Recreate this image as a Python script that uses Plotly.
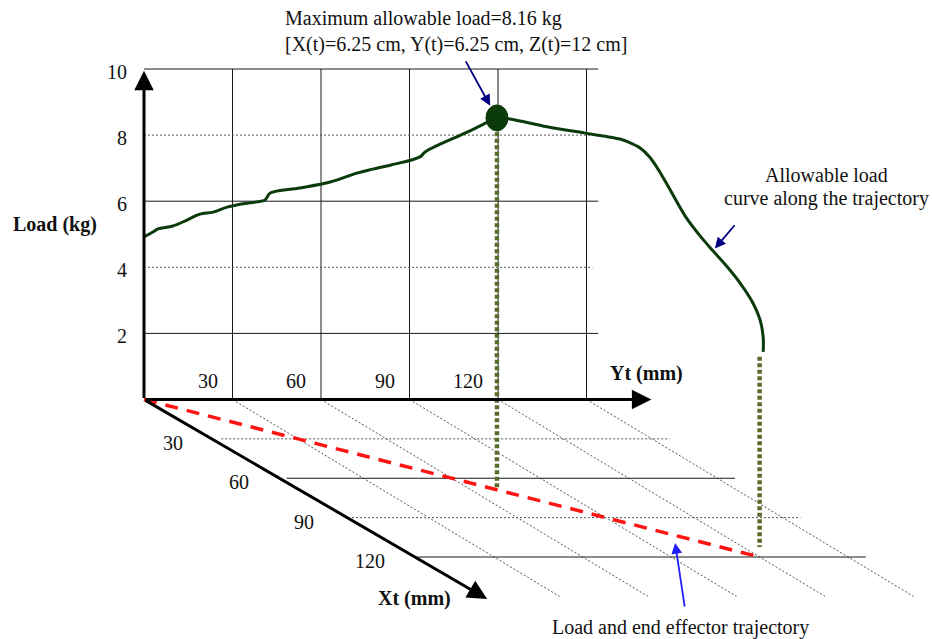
import plotly.graph_objects as go

# ---------------- data ----------------
# allowable load along the trajectory; s = Xt = Yt (mm) on the straight path
CURVE_S = [0, 1.75, 2.73, 5.65, 8.38, 10.9, 13.5, 16.2, 18.7, 22.0, 23.6, 24.6, 30.4,
           36.3, 41.5, 44.6, 48.0, 53.8, 54.8, 63.0, 67.1, 68.8, 71.3, 78.6, 86.0,
           89.5, 92.8, 94.7, 96.7, 98.6, 100.6, 102.5, 105.5, 108.4, 110.9, 113.6,
           116.2, 118.7, 120.1, 120.7, 120.7]
CURVE_LOAD = [4.92, 5.07, 5.16, 5.25, 5.43, 5.61, 5.67, 5.82, 5.91, 5.98, 6.04, 6.25, 6.40,
              6.58, 6.85, 6.97, 7.09, 7.34, 7.49, 8.09, 8.40, 8.52, 8.49, 8.25, 8.06,
              7.97, 7.88, 7.77, 7.61, 7.33, 6.87, 6.36, 5.55, 4.95, 4.50, 4.03,
              3.52, 2.92, 2.41, 1.89, 1.44]
TRAJ_XT = [0, 120]
TRAJ_YT = [0, 120]
YT_TICKS = [30, 60, 90, 120, 150]
XT_TICKS = [30, 60, 90, 120]
LOAD_TICKS = [2, 4, 6, 8, 10]
LOAD_DOTTED = [4, 8]
XT_DOTTED = [30, 90]

# ---------------- oblique projection ----------------
PX_YT = 2.95      # px per mm along Yt
PX_XT_X = 2.18    # px per mm of Xt (horizontal component)
PX_XT_Y = 1.3125  # px per mm of Xt (vertical component)
PX_LOAD = 33.05   # px per kg
CX = PX_XT_X / PX_YT
CY = PX_XT_Y / PX_LOAD
OX, OY = 144.0, 399.5  # pixel position of the origin
W, H = 932, 639


def proj(xt, yt, load=0.0):
    """floor point (xt, yt) raised by load"""
    return yt + xt * CX, load - xt * CY


def curve_pt(s, load):
    """load drawn on the back-plane scale above the projected trajectory point"""
    return proj(s, s)[0], load


def px(x):
    return (x - OX) / PX_YT


def py(y):
    return (OY - y) / PX_LOAD


FONT = "Liberation Serif"
fig = go.Figure()


def segs(pairs, **line):
    xs, ys = [], []
    for a, b in pairs:
        xs += [a[0], b[0], None]
        ys += [a[1], b[1], None]
    fig.add_trace(go.Scatter(x=xs, y=ys, mode="lines", line=line, hoverinfo="skip"))


BACK_W = 154
FLOOR_D = 150
solid = dict(color="#1a1a1a", width=1)
dotted = dict(color="#555555", width=1, dash="2px,2px")

# back plane
segs([(proj(0, yt, 0), proj(0, yt, 10)) for yt in YT_TICKS], **solid)
segs([(proj(0, 0, L), proj(0, BACK_W, L)) for L in LOAD_TICKS if L not in LOAD_DOTTED], **solid)
segs([(proj(0, 0, L), proj(0, BACK_W - 2, L)) for L in LOAD_DOTTED], **dotted)
# floor plane
segs([(proj(0, yt), proj(FLOOR_D, yt)) for yt in YT_TICKS], **dotted)
segs([(proj(xt, 4), proj(xt, 156)) for xt in XT_TICKS if xt not in XT_DOTTED], **solid)
segs([(proj(xt, 4), proj(xt, 156)) for xt in XT_DOTTED], **dotted)

# trajectory (red dashed)
tx, ty = zip(*[proj(a, b) for a, b in zip(TRAJ_XT, TRAJ_YT)])
fig.add_trace(go.Scatter(x=tx, y=ty, mode="lines",
                         line=dict(color="#ff1414", width=3.5, dash="13px,9px"), hoverinfo="skip"))

# vertical projection lines (olive dotted)
ipk = CURVE_LOAD.index(max(CURVE_LOAD))
spk, lpk = CURVE_S[ipk], CURVE_LOAD[ipk]
se, le = TRAJ_XT[-1], CURVE_LOAD[-1]
segs([(curve_pt(spk, lpk + 0.35), proj(spk, spk, 0)),
      (curve_pt(se, le - 0.15), proj(se, se, 0.3))],
     color="#586d2c", width=4.5, dash="4px,2.5px")

# load curve
cx, cy = zip(*[curve_pt(s, L) for s, L in zip(CURVE_S, CURVE_LOAD)])
fig.add_trace(go.Scatter(x=cx, y=cy, mode="lines",
                         line=dict(color="#0b3a0b", width=3, shape="spline", smoothing=1.0),
                         hoverinfo="skip"))

# peak marker
pkx, pky = curve_pt(spk, lpk)
fig.add_shape(type="circle", xref="x", yref="y", xsizemode="pixel", ysizemode="pixel",
              xanchor=pkx, yanchor=pky, x0=-11, x1=11, y0=-13, y1=13,
              fillcolor="#0b3a0b", line=dict(color="#0b3a0b", width=1))

# axes (thick black with arrowheads)
YT_AXIS_END = 172
XT_AXIS_END = 152
LOAD_AXIS_END = 9.95
ann = []
for tip, tail in [(proj(0, 0, LOAD_AXIS_END), proj(0, 0, 0)),
                  (proj(0, YT_AXIS_END, 0), proj(0, 0, 0)),
                  (proj(XT_AXIS_END, 4, 0), proj(0, 0, 0))]:
    ann.append(dict(x=tip[0], y=tip[1], ax=tail[0], ay=tail[1], xref="x", yref="y",
                    axref="x", ayref="y", text="", showarrow=True, arrowhead=2,
                    arrowsize=1.3, arrowwidth=3, arrowcolor="black"))

tf = dict(family=FONT, size=20, color="#111111")
bf = dict(family=FONT, size=20, color="#111111", weight="bold")

# load tick labels
for L in LOAD_TICKS:
    ann.append(dict(x=px(129), y=L, xref="x", yref="y", text=str(L), showarrow=False,
                    xanchor="right", yanchor="middle", yshift=-3, font=tf))
# Yt tick labels
for yt in YT_TICKS[:-1]:
    x, _ = proj(0, yt, 0)
    ann.append(dict(x=x, y=py(381), xref="x", yref="y", text=str(yt), showarrow=False,
                    xanchor="right", yanchor="middle", xshift=-13, font=tf))
# Xt tick labels
for xt in XT_TICKS:
    x, y = proj(xt, 0, 0)
    ann.append(dict(x=x, y=y, xref="x", yref="y", text=str(xt), showarrow=False,
                    xanchor="center", yanchor="middle", xshift=-36, yshift=-4, font=tf))

# axis titles
ann.append(dict(x=px(55), y=py(224), xref="x", yref="y", text="Load (kg)", showarrow=False,
                xanchor="center", yanchor="middle", font=bf))
ann.append(dict(x=px(646), y=py(373), xref="x", yref="y", text="Yt (mm)", showarrow=False,
                xanchor="center", yanchor="middle", font=bf))
ann.append(dict(x=px(414), y=py(598), xref="x", yref="y", text="Xt (mm)", showarrow=False,
                xanchor="center", yanchor="middle", font=bf))

# callouts
ann.append(dict(x=px(283), y=py(18), xref="x", yref="y", text="Maximum allowable load=8.16 kg",
                showarrow=False, xanchor="left", yanchor="middle", font=tf))
ann.append(dict(x=px(283), y=py(44), xref="x", yref="y",
                text="[X(t)=6.25 cm, Y(t)=6.25 cm, Z(t)=12 cm]",
                showarrow=False, xanchor="left", yanchor="middle", font=tf))
ann.append(dict(x=pkx, y=pky, xref="x", yref="y", text="", showarrow=True, ax=-32, ay=-58,
                standoff=14, arrowhead=2, arrowsize=1.2, arrowwidth=1.8, arrowcolor="#000080"))

ann.append(dict(x=px(826), y=py(175), xref="x", yref="y", text="Allowable load",
                showarrow=False, xanchor="center", yanchor="middle", font=tf))
ann.append(dict(x=px(826), y=py(198), xref="x", yref="y", text="curve along the trajectory",
                showarrow=False, xanchor="center", yanchor="middle", font=tf))
ia = CURVE_S.index(110.9)
ax_, ay_ = curve_pt(CURVE_S[ia], CURVE_LOAD[ia])
ann.append(dict(x=ax_, y=ay_, xref="x", yref="y", text="", showarrow=True, ax=23, ay=-27,
                standoff=3, arrowhead=2, arrowsize=1.2, arrowwidth=1.8, arrowcolor="#000080"))

ann.append(dict(x=px(680), y=py(627), xref="x", yref="y", text="Load and end effector trajectory",
                showarrow=False, xanchor="center", yanchor="middle", font=tf))
s_pt = 103.3
bx, by = proj(s_pt, s_pt, 0)
ann.append(dict(x=bx, y=by, xref="x", yref="y", text="", showarrow=True, ax=11, ay=73,
                standoff=8, arrowhead=2, arrowsize=1.2, arrowwidth=1.8, arrowcolor="#1f1fff"))

fig.update_layout(
    width=W, height=H, autosize=False,
    margin=dict(l=0, r=0, t=0, b=0),
    paper_bgcolor="white", plot_bgcolor="white",
    showlegend=False, hovermode=False,
    xaxis=dict(range=[px(0), px(W)], visible=False, fixedrange=True),
    yaxis=dict(range=[py(H), py(0)], visible=False, fixedrange=True),
    annotations=ann,
)

fig.write_html("out.html", config={"displayModeBar": False, "staticPlot": True},
               post_script="document.body.style.margin='0';document.body.style.overflow='hidden';")
